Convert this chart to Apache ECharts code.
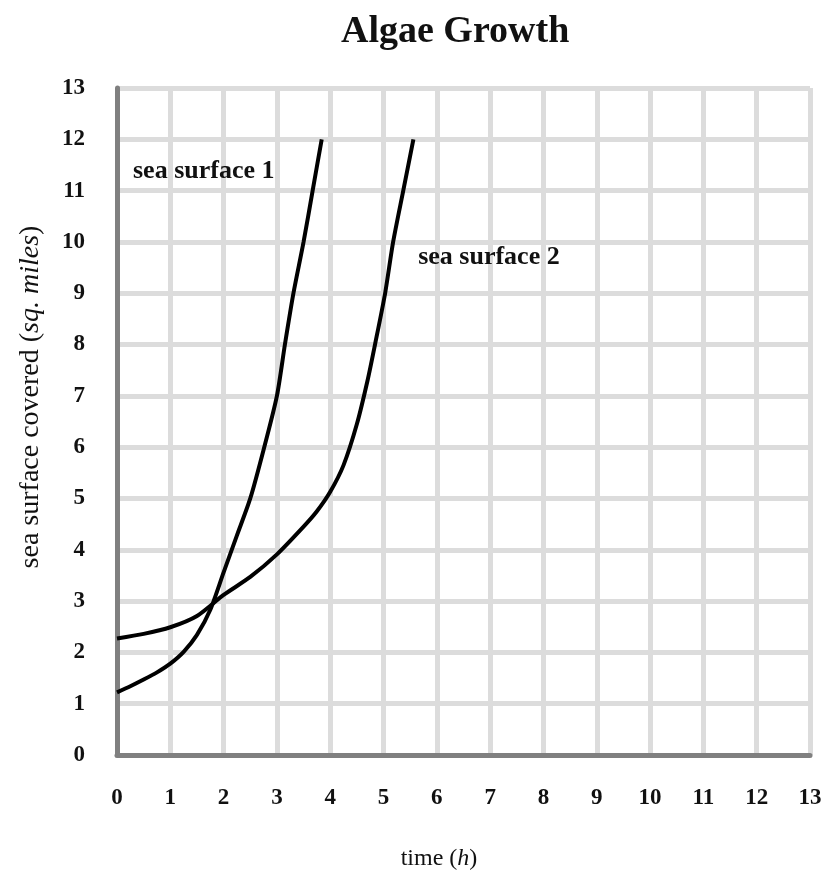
<!DOCTYPE html>
<html>
<head>
<meta charset="utf-8">
<title>Algae Growth</title>
<script src="https://cdn.jsdelivr.net/npm/echarts@6/dist/echarts.min.js"></script>
<style>
  html, body { margin: 0; padding: 0; background: #fff; }
  #chart { width: 830px; height: 875px; }
</style>
</head>
<body>
<div id="chart"></div>
<script>
// Time in hours (x) against sea surface covered in sq. miles (y)
const surface1X = [0, 0.25, 0.5, 0.75, 1, 1.25, 1.5, 1.75, 2, 2.25, 2.5, 2.75, 3, 3.15, 3.31, 3.5, 3.67, 3.84];
const surface1Y = [1.22, 1.34, 1.47, 1.61, 1.78, 2.01, 2.34, 2.83, 3.56, 4.28, 5.0, 5.95, 7.0, 8, 9, 10, 11, 12];

const surface2X = [0, 0.5, 1, 1.5, 2, 2.5, 3, 3.5, 3.75, 4, 4.25, 4.5, 4.7, 4.84, 5.03, 5.18, 5.37, 5.56];
const surface2Y = [2.27, 2.36, 2.49, 2.71, 3.12, 3.47, 3.91, 4.45, 4.75, 5.13, 5.65, 6.45, 7.3, 8, 9, 10, 11, 12];

const seriesNames = ['sea surface 1', 'sea surface 2'];
// where each curve's name is written, in chart units (left edge of text)
const nameSpots = [[0.3, 11.38], [5.65, 9.71]];

const axisMin = 0, axisMax = 13, axisStep = 1;

const FONT = '"Liberation Serif", "DejaVu Serif", serif';

function pairs(xs, ys) { return xs.map((x, i) => [x, ys[i]]); }

const chart = echarts.init(document.getElementById('chart'), null, { renderer: 'canvas' });

const curveStyle = {
  type: 'line',
  smooth: 0.25,
  showSymbol: false,
  symbol: 'none',
  lineStyle: { color: '#000', width: 4 },
  z: 5
};

const axisCommon = {
  type: 'value',
  min: axisMin,
  max: axisMax,
  interval: axisStep,
  axisLine: { show: true, lineStyle: { color: '#808080', width: 5 } },
  axisTick: { show: false },
  splitLine: { show: true, lineStyle: { color: '#dcdcdc', width: 5 } },
  axisLabel: { fontFamily: FONT, fontWeight: 'bold', fontSize: 23, color: '#111', margin: 32 }
};

const noteLabel = {
  show: true, position: 'right', distance: 0,
  fontFamily: FONT, fontWeight: 'bold', fontSize: 26, color: '#111'
};

chart.setOption({
  backgroundColor: '#fff',
  animation: false,
  title: {
    text: 'Algae Growth',
    left: 336,
    top: 8,
    textStyle: { fontFamily: FONT, fontWeight: 'bold', fontSize: 38, color: '#111' }
  },
  grid: { left: 117, right: 20, top: 88, bottom: 120, containLabel: false },
  xAxis: Object.assign({}, axisCommon),
  yAxis: Object.assign({}, axisCommon),
  graphic: [
    {
      type: 'text',
      x: 31, y: 397,
      rotation: Math.PI / 2,
      style: {
        text: '{n|sea surface covered (}{i|sq. miles}{n|)}',
        align: 'center',
        verticalAlign: 'middle',
        rich: {
          n: { fontFamily: FONT, fontSize: 28, fill: '#111', color: '#111' },
          i: { fontFamily: FONT, fontSize: 28, fontStyle: 'italic', fill: '#111', color: '#111' }
        }
      }
    },
    {
      type: 'text',
      x: 439, y: 859,
      style: {
        text: '{n|time (}{i|h}{n|)}',
        align: 'center',
        verticalAlign: 'middle',
        rich: {
          n: { fontFamily: FONT, fontSize: 24, fill: '#111', color: '#111' },
          i: { fontFamily: FONT, fontSize: 24, fontStyle: 'italic', fill: '#111', color: '#111' }
        }
      }
    }
  ],
  series: [
    Object.assign({}, curveStyle, {
      name: seriesNames[0],
      data: pairs(surface1X, surface1Y),
      markPoint: {
        symbolSize: 0,
        data: [{ coord: nameSpots[0], value: seriesNames[0] }],
        label: Object.assign({}, noteLabel, { formatter: seriesNames[0] })
      }
    }),
    Object.assign({}, curveStyle, {
      name: seriesNames[1],
      data: pairs(surface2X, surface2Y),
      markPoint: {
        symbolSize: 0,
        data: [{ coord: nameSpots[1], value: seriesNames[1] }],
        label: Object.assign({}, noteLabel, { formatter: seriesNames[1] })
      }
    })
  ]
});
</script>
</body>
</html>
